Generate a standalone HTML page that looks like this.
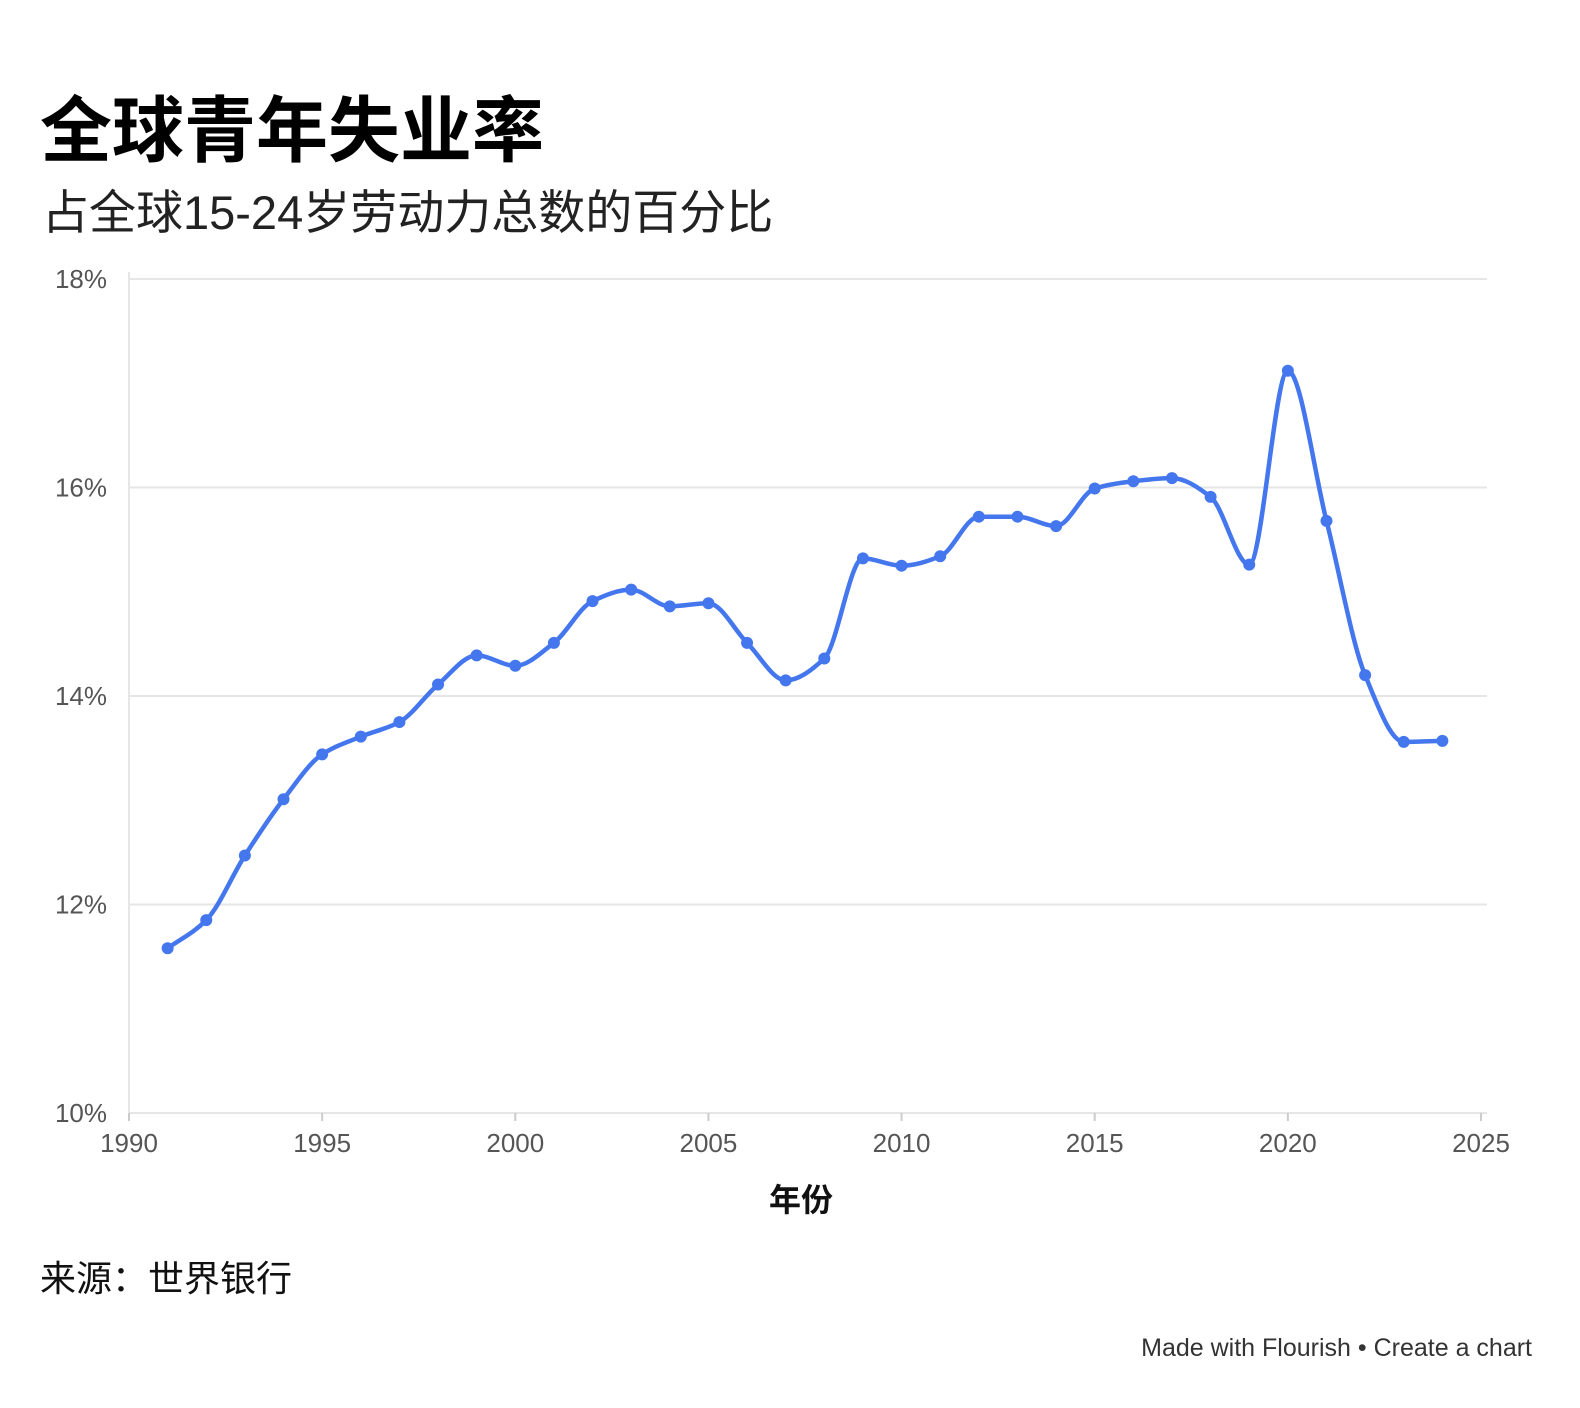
<!DOCTYPE html>
<html><head><meta charset="utf-8">
<style>
html,body{margin:0;padding:0;background:#fff;}
body{width:1580px;height:1408px;overflow:hidden;position:relative;font-family:"Liberation Sans","Noto Sans CJK SC",sans-serif;}
.t{position:absolute;white-space:nowrap;}
</style></head><body>
<div class="t" style="left:40px;top:72px;font-size:72px;font-weight:bold;color:#000;font-family:'Liberation Sans','Noto Sans CJK SC',sans-serif;">全球青年失业率</div>
<div class="t" style="left:42px;top:174px;font-size:47px;color:#222;">占全球15-24岁劳动力总数的百分比</div>
<svg id="chart" width="1580" height="1240" style="position:absolute;left:0;top:0" xmlns="http://www.w3.org/2000/svg"></svg>
<div class="t" style="left:40px;top:1250px;font-size:36px;color:#111;">来源：世界银行</div>
<div class="t" style="right:48px;top:1334px;font-size:25px;color:#333;">Made with Flourish • Create a chart</div>
<script>
const years=[1991,1992,1993,1994,1995,1996,1997,1998,1999,2000,2001,2002,2003,2004,2005,2006,2007,2008,2009,2010,2011,2012,2013,2014,2015,2016,2017,2018,2019,2020,2021,2022,2023,2024];
const values=[11.58,11.85,12.47,13.01,13.44,13.61,13.75,14.11,14.39,14.29,14.51,14.91,15.02,14.86,14.89,14.51,14.15,14.36,15.32,15.25,15.34,15.72,15.72,15.63,15.99,16.06,16.09,15.91,15.26,17.12,15.68,14.20,13.56,13.57];
const xTicks=[1990,1995,2000,2005,2010,2015,2020,2025];
const yTicks=[10,12,14,16,18];
const svg=document.getElementById('chart');
const NS='http://www.w3.org/2000/svg';
const X0=129,X1=1481,Y0=1113,Y1=279;
const x=v=>X0+(v-1990)/(2025-1990)*(X1-X0);
const y=v=>Y0-(v-10)/(18-10)*(Y0-Y1);
function mk(tag,attrs){const e=document.createElementNS(NS,tag);for(const k in attrs)e.setAttribute(k,attrs[k]);svg.appendChild(e);return e;}
yTicks.forEach(t=>{
  const g=mk('line',{x1:X0,x2:1487,y1:y(t),y2:y(t),stroke:'#e6e6e6','stroke-width':2});
  
  
  const l=mk('text',{x:107,y:y(t)+9,'text-anchor':'end','font-size':26,fill:'#555','font-family':'Liberation Sans, sans-serif'});
  l.textContent=t+'%';
  
  
});
const ax=mk('line',{x1:X0,x2:X0,y1:272,y2:Y0,stroke:'#e6e6e6','stroke-width':2});


xTicks.forEach(t=>{
  const tk=mk('line',{x1:x(t),x2:x(t),y1:Y0,y2:Y0+8,stroke:'#ccc','stroke-width':2});
  
  
  const l=mk('text',{x:x(t),y:Y0+39,'text-anchor':'middle','font-size':26,fill:'#555','font-family':'Liberation Sans, sans-serif'});
  l.textContent=t;
  
  
});
const xt=mk('text',{x:801,y:1211,'text-anchor':'middle','font-size':32,'font-weight':'bold',fill:'#111','font-family':'Noto Sans CJK SC, sans-serif'});
xt.textContent='年份';


const px=years.map(x),py=values.map(y),n=px.length;
const d=[],m=[];
for(let i=0;i<n-1;i++)d.push((py[i+1]-py[i])/(px[i+1]-px[i]));
for(let i=0;i<n;i++){
  if(i===0)m.push(d[0]);else if(i===n-1)m.push(d[n-2]);
  else m.push(d[i-1]*d[i]<=0?0:(2*d[i-1]*d[i])/(d[i-1]+d[i]));
}
let p='M'+px[0]+','+py[0];
for(let i=0;i<n-1;i++){const h=(px[i+1]-px[i])/3;
  p+=' C'+(px[i]+h)+','+(py[i]+m[i]*h)+' '+(px[i+1]-h)+','+(py[i+1]-m[i+1]*h)+' '+px[i+1]+','+py[i+1];}
const line=mk('path',{d:p,fill:'none',stroke:'#4477ee','stroke-width':4.5,'stroke-linejoin':'round'});


for(let i=0;i<n;i++){
  const c=mk('circle',{cx:px[i],cy:py[i],r:6,fill:'#4477ee'});
  
  
}
</script>
</body></html>
